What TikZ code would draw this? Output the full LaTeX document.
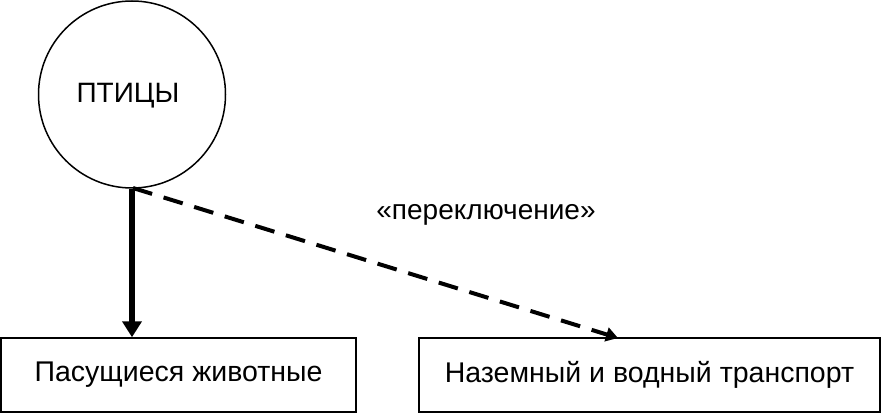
\documentclass[tikz,border=0pt]{standalone}
\usepackage{fontspec}
\setmainfont{Liberation Sans}
\usetikzlibrary{arrows.meta}
\begin{document}
\begin{tikzpicture}[x=1pt,y=-1pt,
  lbl/.style={font=\fontsize{28.5}{32}\selectfont},
  boxnode/.style={draw, line width=1.5pt, inner sep=0pt, lbl},
  solidarrow/.style={line width=6pt, -{Triangle[length=16pt,width=19pt]}},
  dasharrow/.style={line width=4pt, dash pattern=on 20pt off 12pt, -{Triangle[length=12pt,width=14pt]}}]
\useasboundingbox (0,0) rectangle (883,414);
\node[draw, circle, line width=1.5pt, minimum size=187pt, inner sep=0pt] (birds) at (132,94.5) {};
\node[font=\fontsize{28}{32}\selectfont] (birdtxt) at (128,95.5) {ПТИЦЫ};
\node[boxnode, minimum width=355pt, minimum height=74pt] (graze) at (178.5,375) {Пасущиеся животные};
\node[boxnode, minimum width=461pt, minimum height=74pt] (trans) at (649.5,375) {Наземный и водный транспорт};
\coordinate (start) at (133,188);
\coordinate (tend) at (618,338);
\draw[solidarrow] (birds.south) -- (graze.north -| birds.south);
\draw[dasharrow] (start) -- (tend);
\node[font=\fontsize{28}{32}\selectfont] (sw) at (486,215) {«переключение»};
\end{tikzpicture}
\end{document}
